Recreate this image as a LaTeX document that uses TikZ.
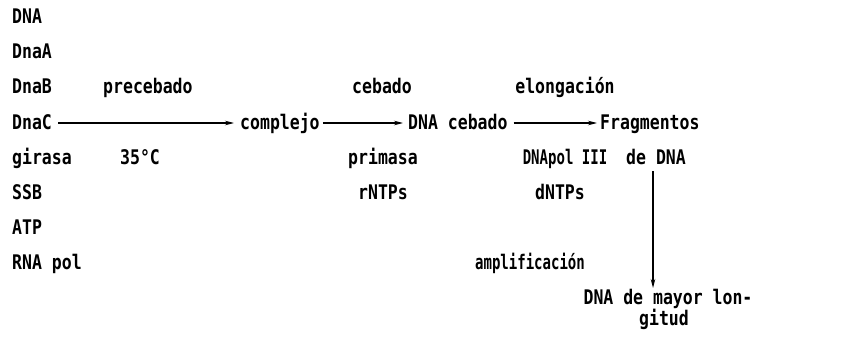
\documentclass[tikz,border=0pt]{standalone}
\usepackage{fontspec}
\setmainfont{DejaVu Sans Mono}[BoldFont={DejaVu Sans Mono Bold}]
\usetikzlibrary{arrows.meta}
\newcommand\tx[1]{\scalebox{1}[1.22]{#1}}
\newcommand\txn[1]{\scalebox{0.85}[1.22]{#1}}
\begin{document}
\begin{tikzpicture}[x=1pt,y=-1pt,
  txt/.style={inner sep=0pt,font=\bfseries\fontsize{16.5}{19}\selectfont},
  lft/.style={txt,anchor=base west},
  ctr/.style={txt,anchor=base},
  conn/.style={line width=1.1pt,-{Stealth[length=9pt,width=4.5pt]}}]
\useasboundingbox (0,0) rectangle (868,353);
% left column
\node[lft] (dna)  at (12,24)  {\tx{DNA}};
\node[lft] (dnaa) at (12,59)  {\tx{DnaA}};
\node[lft] (dnab) at (12,94)  {\tx{DnaB}};
\node[lft] (dnac) at (12,129) {\tx{DnaC}};
\node[lft] (gir)  at (12,164) {\tx{girasa}};
\node[lft] (ssb)  at (12,199) {\tx{SSB}};
\node[lft] (atp)  at (12,234) {\tx{ATP}};
\node[lft] (rnap) at (12,269) {\tx{RNA pol}};
% step 1
\node[lft] (preceb) at (103,94) {\tx{precebado}};
\node[lft] (temp) at (120,164) {\tx{35°C}};
\node[lft] (compl) at (240,129) {\tx{complejo}};
% step 2
\node[ctr] (ceb) at (382,94) {\tx{cebado}};
\node[ctr] (prim) at (383,164) {\tx{primasa}};
\node[ctr] (rntp) at (383,199) {\tx{rNTPs}};
\node[lft] (dnaceb) at (408,129) {\tx{DNA cebado}};
% step 3
\node[ctr] (elong) at (565,94) {\tx{elongación}};
\node[ctr] (pol) at (565,164) {\txn{DNApol III}};
\node[ctr] (dntp) at (560,199) {\tx{dNTPs}};
\node[lft] (frag) at (600,129) {\tx{Fragmentos}};
\node[ctr] (dedna) at (656,164) {\tx{de DNA}};
% step 4
\node[ctr] (ampl) at (530,269) {\txn{amplificación}};
\node[ctr] (mayor) at (668,304) {\tx{DNA de mayor lon-}};
\node[ctr] (gitud) at (664,325) {\tx{gitud}};
% connectors
\draw[conn] ([xshift=6pt,yshift=6pt]dnac.base east) -- ([xshift=-6pt,yshift=6pt]compl.base west);
\draw[conn] ([xshift=3pt,yshift=6pt]compl.base east) -- ([xshift=-5pt,yshift=6pt]dnaceb.base west);
\draw[conn] ([xshift=6pt,yshift=6pt]dnaceb.base east) -- ([xshift=-3pt,yshift=6pt]frag.base west);
\draw[conn] (653,171) -- (653,288);
\end{tikzpicture}
\end{document}
